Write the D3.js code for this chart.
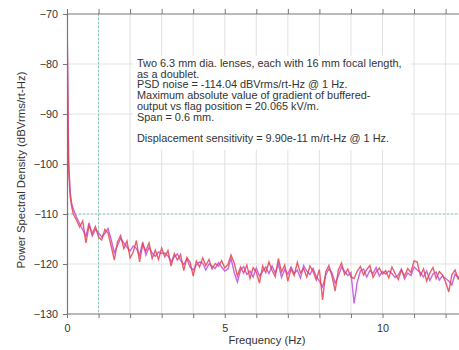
<!DOCTYPE html>
<html>
<head>
<meta charset="utf-8">
<script src="https://cdn.jsdelivr.net/npm/d3@7"></script>
<style>
  body { margin: 0; background: #fff; }
  svg { display: block; font-family: "Liberation Sans", Arial, sans-serif; }
</style>
</head>
<body>
<svg id="chart" width="459" height="350"></svg>
<script>
// frequency bins (Hz)
const freq = [0, 0.05, 0.1, 0.15, 0.2,
  0.3, 0.4, 0.5, 0.6, 0.7, 0.8, 0.9, 1.0,
  1.1, 1.2, 1.3, 1.4, 1.5, 1.6, 1.7, 1.8, 1.9, 2.0,
  2.1, 2.2, 2.3, 2.4, 2.5, 2.6, 2.7, 2.8, 2.9, 3.0,
  3.1, 3.2, 3.3, 3.4, 3.5, 3.6, 3.7, 3.8, 3.9, 4.0,
  4.1, 4.2, 4.3, 4.4, 4.5, 4.6, 4.7, 4.8, 4.9, 5.0,
  5.1, 5.2, 5.3, 5.4, 5.5, 5.6, 5.7, 5.8, 5.9, 6.0,
  6.1, 6.2, 6.3, 6.4, 6.5, 6.6, 6.7, 6.8, 6.9, 7.0,
  7.1, 7.2, 7.3, 7.4, 7.5, 7.6, 7.7, 7.8, 7.9, 8.0,
  8.1, 8.2, 8.3, 8.4, 8.5, 8.6, 8.7, 8.8, 8.9, 9.0,
  9.1, 9.2, 9.3, 9.4, 9.5, 9.6, 9.7, 9.8, 9.9, 10.0,
  10.1, 10.2, 10.3, 10.4, 10.5, 10.6, 10.7, 10.8, 10.9, 11.0,
  11.1, 11.2, 11.3, 11.4, 11.5, 11.6, 11.7, 11.8, 11.9, 12.0,
  12.1, 12.2, 12.3, 12.4, 12.5];

// PSD, violet trace (dBVrms/rt-Hz)
const psdViolet = [-70, -99, -105.5, -108, -109,
  -110.6, -111.9, -113.2, -114.5, -111.8, -114.4, -113.1, -113.8,
  -114.6, -113.9, -112.9, -115.1, -117.8, -116.3, -114.9, -115.8, -116.6, -117.4,
  -116.4, -116.9, -118.3, -115.6, -118.2, -116.7, -117.8, -118.5, -117.6, -117.9,
  -117.8, -118.4, -119.5, -118.6, -118.0, -119.3, -120.1, -119.0, -120.6, -121.2,
  -120.2, -119.6, -119.8, -121.2, -120.0, -120.4, -120.9, -119.7, -120.6, -121.4,
  -121.0, -118.9, -121.7, -123.6, -121.2, -120.5, -122.1, -121.4, -122.6, -120.8,
  -122.4, -121.5, -120.6, -121.9, -120.4, -121.8, -120.0, -122.7, -121.1, -122.0,
  -120.6, -121.9, -121.2, -122.8, -120.3, -121.4, -122.1, -120.9, -122.5, -123.4,
  -124.6, -122.2, -121.0, -121.8, -123.8, -122.4, -120.6, -121.5, -122.3, -121.7,
  -127.9, -123.6, -121.4, -121.0, -122.6, -121.3, -121.9, -120.7, -122.4, -121.5,
  -122.0, -121.4, -121.9, -122.7, -122.2, -121.0, -123.0, -121.8, -122.3, -120.6,
  -121.2, -121.7, -122.6, -121.4, -123.3, -122.0, -121.6, -123.2, -122.4, -122.9,
  -123.4, -124.2, -122.0, -122.8, -121.6];

// PSD, red trace (dBVrms/rt-Hz)
const psdRed = [-70, -101, -106.5, -108.5, -110,
  -111.2, -112.6, -111.4, -115.8, -112.3, -113.9, -112.5, -114.6,
  -115.2, -113.1, -113.8, -116.4, -119.2, -115.6, -114.3, -116.9, -115.4, -118.8,
  -117.6, -115.3, -119.6, -116.1, -117.4, -115.8, -118.9, -117.2, -119.1, -116.8,
  -118.6, -117.3, -120.4, -117.9, -119.2, -118.1, -121.3, -118.7, -119.6, -122.4,
  -119.4, -120.6, -118.8, -120.3, -119.1, -121.0, -119.9, -120.4, -119.3, -120.8,
  -120.1, -118.2, -119.8, -122.4, -120.6, -121.8, -120.2, -122.9, -120.7, -121.6,
  -123.8, -120.4, -121.7, -119.6, -121.3, -122.5, -118.9, -121.6, -120.2, -123.4,
  -121.0, -122.3, -119.7, -121.8, -120.9, -122.6, -120.4, -121.5, -123.2, -121.1,
  -127.2, -121.6, -120.3, -122.4, -125.4, -121.2, -119.8, -122.1, -121.0, -122.6,
  -122.9, -121.4, -120.5, -122.2, -121.1, -120.3, -122.7, -121.6, -120.8, -122.0,
  -121.3, -122.8, -120.6, -121.9, -123.1, -121.2, -122.4, -120.9, -121.7, -119.4,
  -119.6, -122.3, -121.0, -123.4, -121.8, -120.7, -122.9, -121.5, -122.2, -123.6,
  -125.6, -122.1, -121.2, -123.0, -122.4];

const xTicks = [0, 1, 2, 3, 4, 5, 6, 7, 8, 9, 10, 11, 12, 13];
const xTickLabels = [0, 5, 10];
const yTicks = [-70, -80, -90, -100, -110, -120, -130];

const note = [
  'Two 6.3 mm dia. lenses, each with 16 mm focal length,',
  'as a doublet.',
  'PSD noise = -114.04 dBVrms/rt-Hz @ 1 Hz.',
  'Maximum absolute value of gradient of buffered-',
  'output vs flag position = 20.065 kV/m.',
  'Span = 0.6 mm.',
  '',
  'Displacement sensitivity = 9.90e-11 m/rt-Hz @ 1 Hz.'
];

const svg = d3.select('#chart');
const plotLeft = 67, plotTop = 14, plotBottom = 314, plotRight = 459;

const x = d3.scaleLinear().domain([0, 13]).range([plotLeft, plotLeft + 13 * 31.55]);
const y = d3.scaleLinear().domain([-130, -70]).range([plotBottom, plotTop]);

// grid
svg.append('g').selectAll('line').data(xTicks.slice(1)).enter().append('line')
  .attr('x1', d => x(d)).attr('x2', d => x(d))
  .attr('y1', plotTop).attr('y2', plotBottom)
  .attr('stroke', '#e2e2e2').attr('stroke-width', 1);
svg.append('g').selectAll('line').data(yTicks.slice(1, -1)).enter().append('line')
  .attr('x1', plotLeft).attr('x2', plotRight)
  .attr('y1', d => y(d)).attr('y2', d => y(d))
  .attr('stroke', '#e2e2e2').attr('stroke-width', 1);

// reference lines at 1 Hz and -110 dB
svg.append('line')
  .attr('x1', x(1)).attr('x2', x(1)).attr('y1', plotTop).attr('y2', plotBottom)
  .attr('stroke', '#7fcdbd').attr('stroke-width', 1).attr('stroke-dasharray', '2,2');
svg.append('line')
  .attr('x1', plotLeft).attr('x2', plotRight).attr('y1', y(-110)).attr('y2', y(-110))
  .attr('stroke', '#7fcdbd').attr('stroke-width', 1).attr('stroke-dasharray', '2,2');

// annotation box
svg.append('rect')
  .attr('x', 133).attr('y', 56).attr('width', 278).attr('height', 94)
  .attr('fill', '#fff');
svg.append('text')
  .attr('font-size', 10.9).attr('fill', '#333')
  .selectAll('tspan').data(note).enter().append('tspan')
  .attr('x', 137).attr('y', (d, i) => 67 + i * 10.7)
  .text(d => d);

// traces
svg.append('clipPath').attr('id', 'plot-clip').append('rect')
  .attr('x', plotLeft).attr('y', plotTop)
  .attr('width', plotRight - plotLeft).attr('height', plotBottom - plotTop);

const line = vals => d3.line()
  .x((d, i) => x(freq[i]))
  .y(d => y(d))(vals);

const traces = svg.append('g').attr('clip-path', 'url(#plot-clip)');
traces.append('path').attr('d', line(psdViolet))
  .attr('fill', 'none').attr('stroke', '#c466e6').attr('stroke-width', 1.4);
traces.append('path').attr('d', line(psdRed))
  .attr('fill', 'none').attr('stroke', '#e6434f').attr('stroke-width', 1.4)
  .attr('stroke-opacity', 0.85);

// axes
const axisColor = '#777';
const xAxis = svg.append('g').attr('transform', `translate(0,${plotBottom})`)
  .call(d3.axisBottom(x).tickValues(xTicks).tickSize(4)
    .tickFormat(d => xTickLabels.includes(d) ? d : ''));
const xTop = svg.append('g').attr('transform', `translate(0,${plotTop})`)
  .call(d3.axisTop(x).tickValues(xTicks).tickSize(5).tickFormat(''));
const yAxis = svg.append('g').attr('transform', `translate(${plotLeft},0)`)
  .call(d3.axisLeft(y).tickValues(yTicks).tickSize(4).tickPadding(5));

[xAxis, xTop, yAxis].forEach(g => {
  g.select('.domain').attr('stroke', axisColor).attr('stroke-width', 1.2);
  g.selectAll('.tick line').attr('stroke', axisColor);
  g.selectAll('.tick text').attr('fill', '#333').attr('font-size', 10.8)
    .attr('font-family', '"Liberation Sans", Arial, sans-serif');
});
xAxis.selectAll('.tick text').attr('dy', '1.05em');
xTop.select('.domain').attr('d', `M${plotLeft},0H${plotRight}`);
xAxis.select('.domain').attr('d', `M${plotLeft},0H${plotRight}`);

// axis titles
svg.append('text')
  .attr('x', 267).attr('y', 344)
  .attr('text-anchor', 'middle').attr('font-size', 11.2).attr('fill', '#333')
  .text('Frequency (Hz)');
svg.append('text')
  .attr('transform', 'translate(25,170) rotate(-90)')
  .attr('text-anchor', 'middle').attr('font-size', 11.4).attr('fill', '#333')
  .text('Power Spectral Density (dBVrms/rt-Hz)');
</script>
</body>
</html>
